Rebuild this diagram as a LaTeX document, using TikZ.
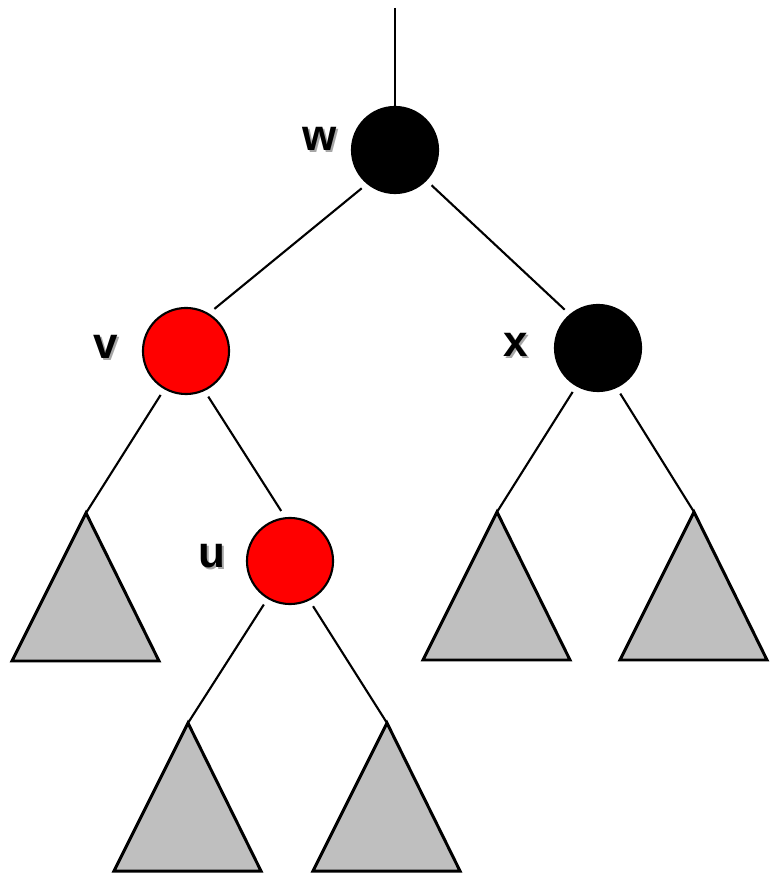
\documentclass[tikz,border=0pt]{standalone}
\usepackage{fontspec}
\setmainfont{Liberation Sans}
\usetikzlibrary{calc}

\tikzset{
  rbnode/.style={circle, draw=black, line width=0.6pt, minimum size=0.86cm, inner sep=0pt, outer sep=2.2pt},
  blacknode/.style={rbnode, fill=black},
  rednode/.style={rbnode, fill=red},
  edge/.style={line width=0.6pt},
  subtree/.style={line width=0.85pt, fill=gray!50, line join=miter},
  lbl/.style={font=\fontsize{12.5}{14}\selectfont\bfseries, inner sep=0pt}
}
\newcommand{\shadowlabel}[3]{%
  \node[lbl, text=black!35] at ($(#2)+(2,2)$) {#3};
  \node[lbl] (#1) at (#2) {#3};
}

\begin{document}
\begin{tikzpicture}[x=0.01cm, y=-0.01cm]
    \useasboundingbox (0,0) rectangle (770,874);

    % Nodes of the tree
    \node[blacknode] (w) at (395,150) {};
    \node[rednode] (v) at (186,351) {};
    \node[blacknode] (x) at (598,348) {};
    \node[rednode] (u) at (290,561) {};

    % Labels
    \shadowlabel{lw}{320,139}{w}
    \shadowlabel{lv}{106,347}{v}
    \shadowlabel{lx}{516,345}{x}
    \shadowlabel{lu}{212,556}{u}

    % Subtree apexes
    \coordinate (top) at (395,8);
    \coordinate (t1) at (86,513);
    \coordinate (t2) at (188,723);
    \coordinate (t3) at (387,723);
    \coordinate (t4) at (497,512);
    \coordinate (t5) at (694,512);

    % Subtrees
    \foreach \t in {t1,t2,t3,t4,t5}
        \draw[subtree] (\t) -- ++(-74,148) -- ++(147,0) -- cycle;

    % Edges
    \draw[edge, shorten >=-2.2pt] (top) -- (w.north);
    \draw[edge] (w.229) -- (v.56);
    \draw[edge] (w.316) -- (x.131);
    \draw[edge] (v.240) -- (t1);
    \draw[edge] (v.296) -- (u.100);
    \draw[edge] (u.239) -- (t2);
    \draw[edge] (u.297) -- (t3);
    \draw[edge] (x.240) -- (t4);
    \draw[edge] (x.296) -- (t5);
\end{tikzpicture}
\end{document}
